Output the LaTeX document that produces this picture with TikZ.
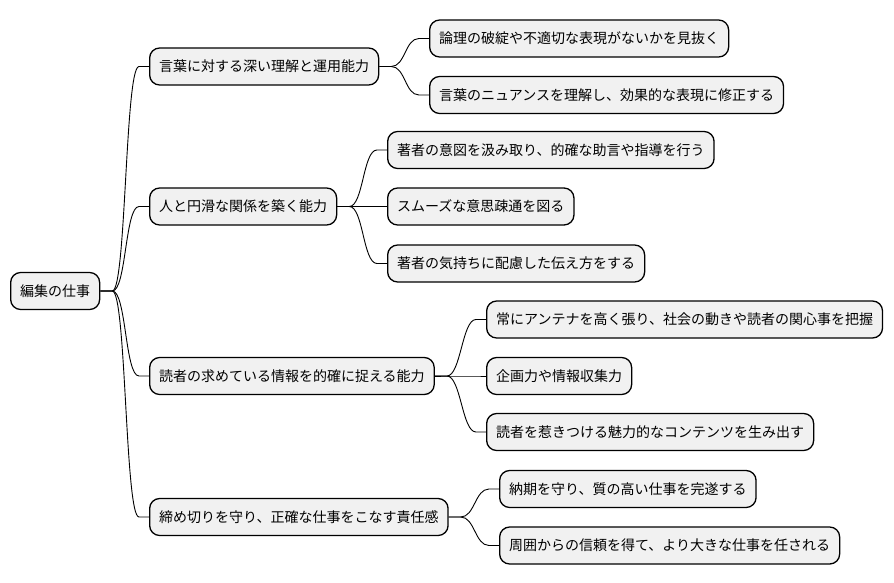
\documentclass[tikz,border=0pt]{standalone}
\usepackage{fontspec}
\newfontfamily\jp{Noto Sans CJK JP}
\usetikzlibrary{calc}
\tikzset{
  box/.style={draw=black, fill=boxfill, line width=1.3pt, rounded corners=10pt,
    minimum height=37pt, inner xsep=9.5pt, inner ysep=0pt, anchor=west,
    font=\jp\fontsize{14pt}{16pt}\selectfont, text=black},
  conn/.style={draw=black, line width=0.9pt,
    to path={-- ++(12,0) coordinate (tA)
      .. controls ($(tA)+(14,0)$) and ($(\tikztotarget)+(-24,0)$) ..
      ($(\tikztotarget)+(-10,0)$) -- (\tikztotarget)}}
}
\definecolor{boxfill}{HTML}{F1F1F1}
\begin{document}
\begin{tikzpicture}[x=1pt,y=-1pt]
\useasboundingbox (0,0) rectangle (894,583);
\node[box] (root) at (10,291) {編集の仕事};
\node[box] (a) at (149,66.5) {言葉に対する深い理解と運用能力};
\node[box] (b) at (149,206.5) {人と円滑な関係を築く能力};
\node[box] (c) at (149,376) {読者の求めている情報を的確に捉える能力};
\node[box] (d) at (149,517) {締め切りを守り、正確な仕事をこなす責任感};
\node[box] (a1) at (429,38.5) {論理の破綻や不適切な表現がないかを見抜く};
\node[box] (a2) at (429,95) {言葉のニュアンスを理解し、効果的な表現に修正する};
\node[box] (b1) at (387,150) {著者の意図を汲み取り、的確な助言や指導を行う};
\node[box] (b2) at (387,206.5) {スムーズな意思疎通を図る};
\node[box] (b3) at (387,263.5) {著者の気持ちに配慮した伝え方をする};
\node[box] (c1) at (486,319.5) {常にアンテナを高く張り、社会の動きや読者の関心事を把握};
\node[box] (c2) at (486,376) {企画力や情報収集力};
\node[box] (c3) at (486,432) {読者を惹きつける魅力的なコンテンツを生み出す};
\node[box] (d1) at (499,489) {納期を守り、質の高い仕事を完遂する};
\node[box] (d2) at (499,545.5) {周囲からの信頼を得て、より大きな仕事を任される};
\foreach \p/\c in {root/a,root/b,root/c,root/d,a/a1,a/a2,b/b1,b/b2,b/b3,c/c1,c/c2,c/c3,d/d1,d/d2}
  \draw[conn] (\p.east) to (\c.west);
\end{tikzpicture}
\end{document}
